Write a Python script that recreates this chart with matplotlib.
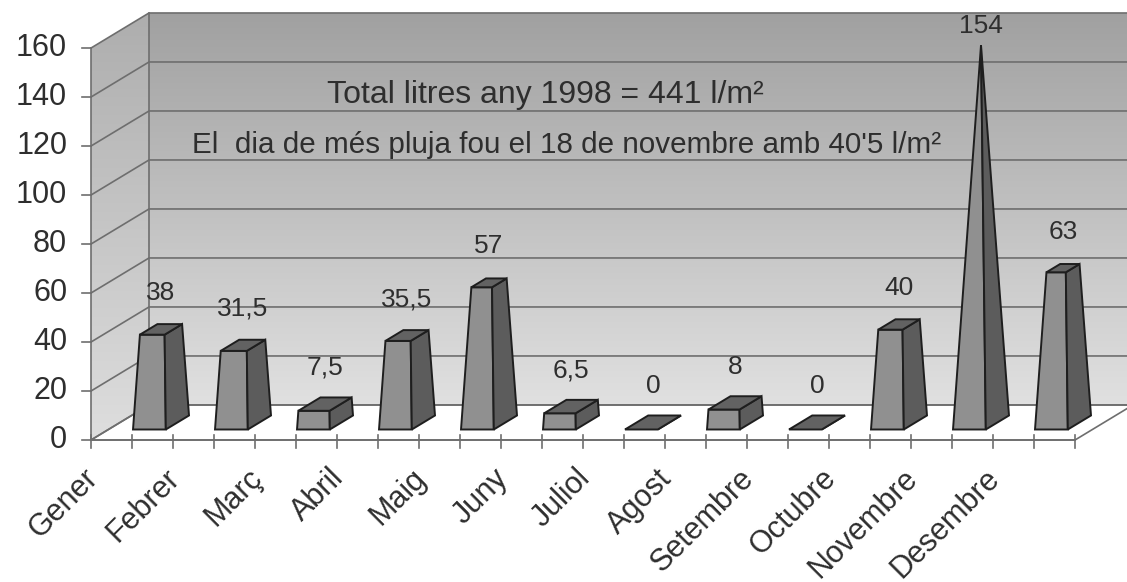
import numpy as np
import matplotlib.pyplot as plt
from matplotlib.patches import Polygon

# --- Data (rainfall per month, 1998, l/m2) ---
months = ['Gener', 'Febrer', 'Març', 'Abril', 'Maig', 'Juny', 'Juliol',
          'Agost', 'Setembre', 'Octubre', 'Novembre', 'Desembre']
rain = [38, 31.5, 7.5, 35.5, 57, 6.5, 0, 8, 0, 40, 154, 63]
rain_labels = ['38', '31,5', '7,5', '35,5', '57', '6,5', '0', '8', '0',
               '40', '154', '63']
y_ticks = [0, 20, 40, 60, 80, 100, 120, 140, 160]
note_total = 'Total litres any 1998 = 441 l/m²'
note_max = "El  dia de més pluja fou el 18 de novembre amb 40'5 l/m²"

# --- Oblique "3D" projection: one unit of depth shifts (DX cats, DY litres) ---
DX, DY = 0.707, 14.3
Y_MAX = 160
N = len(months)


def proj(x, d, h):
    return (x + d * DX, h + d * DY)


plt.rcParams['font.family'] = ['Liberation Sans', 'DejaVu Sans']
TXT = '#2e2e2e'
LINE = '#6e6e6e'

fig = plt.figure(figsize=(11.27, 5.82), dpi=100)
ax = fig.add_axes([0, 0, 1, 1])
ax.axis('off')
XLIM = (-1.11, 12.634)
YLIM = (-57.96, 179.6)


def wall(corners, top_grey, bottom_grey, y0, y1):
    poly = Polygon(corners, closed=True, facecolor='none', edgecolor='none')
    ax.add_patch(poly)
    g = np.linspace(bottom_grey, top_grey, 256)[:, None]
    img = np.dstack([g, g, g])
    xs = [c[0] for c in corners]
    im = ax.imshow(img, extent=[min(xs), max(xs), y0, y1], origin='lower',
                   aspect='auto', interpolation='bilinear', zorder=0)
    im.set_clip_path(poly)


# back wall and left side wall
back = [proj(0, 1, 0), proj(N + 1, 1, 0), proj(N + 1, 1, Y_MAX), proj(0, 1, Y_MAX)]
wall(back, 0.63, 0.88, DY, Y_MAX + DY)
left = [proj(0, 0, 0), proj(0, 1, 0), proj(0, 1, Y_MAX), proj(0, 0, Y_MAX)]
wall(left, 0.68, 0.87, 0, Y_MAX + DY)

# floor
floor = [proj(0, 0, 0), proj(N, 0, 0), proj(N, 1, 0), proj(0, 1, 0)]
ax.add_patch(Polygon(floor, closed=True, facecolor='white', edgecolor=LINE,
                     lw=1.2, zorder=1))

# gridlines on walls
for t in y_ticks:
    p0, p1, p2 = proj(0, 0, t), proj(0, 1, t), proj(N + 1, 1, t)
    ax.plot([p0[0], p1[0], p2[0]], [p0[1], p1[1], p2[1]], color=LINE,
            lw=1.2, zorder=2)
for d in (0, 1):
    a, b = proj(0, d, 0), proj(0, d, Y_MAX)
    ax.plot([a[0], b[0]], [a[1], b[1]], color=LINE, lw=1.2, zorder=2)

# axis ticks and labels
for t in y_ticks:
    ax.plot([-0.11, 0], [t, t], color=LINE, lw=1.2, zorder=2)
    ax.text(-0.29, t, str(t), ha='right', va='center', fontsize=22, color=TXT)
for k in range(2 * N + 1):
    ax.plot([k * 0.5, k * 0.5], [-3.2, 2], color=LINE, lw=1.2, zorder=2)
ax.plot([0, N], [0, 0], color=LINE, lw=1.2, zorder=2)
for i, m in enumerate(months):
    ax.text(i - 0.1, -9.5, m, rotation=45, rotation_mode='anchor', ha='right',
            va='top', fontsize=22, color=TXT)

# pyramid bars (truncated at each value, apex at the largest value)
H = max(rain)
half = 0.2
for i, v in enumerate(rain):
    c, dc = i + 0.5, 0.5
    s = half * (1 - v / H)
    fl0, fr0, br0 = proj(c - half, dc - half, 0), proj(c + half, dc - half, 0), proj(c + half, dc + half, 0)
    fl1, fr1 = proj(c - s, dc - s, v), proj(c + s, dc - s, v)
    br1, bl1 = proj(c + s, dc + s, v), proj(c - s, dc + s, v)
    faces = [([fl0, fr0, fr1, fl1], '#909090'),
             ([fr0, br0, br1, fr1], '#5c5c5c'),
             ([fl1, fr1, br1, bl1], '#626262')]
    for pts, col in faces:
        ax.add_patch(Polygon(pts, closed=True, facecolor=col, edgecolor='#1e1e1e',
                             lw=1.4, joinstyle='miter', zorder=5))
    lx = proj(c, dc, 0)[0]
    ax.text(lx, min(v + 22, Y_MAX + 9), rain_labels[i], ha='center', va='center',
            fontsize=19, color=TXT, zorder=4)

# notes on the back wall
ax.text(2.88, 140.8, note_total, ha='left', va='center', fontsize=23, color=TXT)
ax.text(1.23, 120.4, note_max, ha='left', va='center', fontsize=21.3, color=TXT)

ax.set_xlim(*XLIM)
ax.set_ylim(*YLIM)
fig.savefig('out.png', dpi=100, facecolor='white')
